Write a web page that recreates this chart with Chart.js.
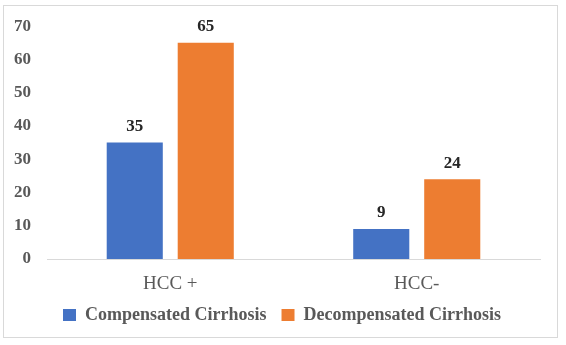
<!DOCTYPE html>
<html>
<head>
<meta charset="utf-8">
<script src="https://cdn.jsdelivr.net/npm/chart.js@4"></script>
<style>
  html, body { margin: 0; padding: 0; background: #fff; }
  #wrap { width: 566px; height: 345px; }
</style>
</head>
<body>
<div id="wrap"><canvas id="chart"></canvas></div>
<script>
const groups = ['HCC +', 'HCC-'];
const compensated = [35, 9];
const decompensated = [65, 24];
const yTicks = [0, 10, 20, 30, 40, 50, 60, 70];

Chart.defaults.font.family = "'Liberation Serif', 'Times New Roman', serif";
Chart.defaults.color = '#595959';

// thin gray frame round the whole chart
const frame = {
  id: 'frame',
  beforeDraw(chart) {
    const ctx = chart.ctx;
    ctx.save();
    ctx.fillStyle = '#fff';
    ctx.fillRect(0, 0, chart.width, chart.height);
    ctx.strokeStyle = '#d9d9d9';
    ctx.lineWidth = 1;
    ctx.strokeRect(3.5, 5.5, 554, 332);
    ctx.restore();
  }
};

// centre the legend under the frame rather than under the padded box
const legendShift = {
  id: 'legendShift',
  afterLayout(chart) {
    chart.legend.left += 12;
    chart.legend.right += 12;
  }
};

// value printed above each bar
const barValues = {
  id: 'barValues',
  afterDatasetsDraw(chart) {
    const ctx = chart.ctx;
    ctx.save();
    ctx.font = "bold 17px 'Liberation Serif', serif";
    ctx.fillStyle = '#262626';
    ctx.textAlign = 'center';
    ctx.textBaseline = 'middle';
    chart.data.datasets.forEach((ds, i) => {
      chart.getDatasetMeta(i).data.forEach((bar, j) => {
        ctx.fillText(String(ds.data[j]), bar.x, bar.y - 16);
      });
    });
    ctx.restore();
  }
};

new Chart(document.getElementById('chart'), {
  type: 'bar',
  data: {
    labels: groups,
    datasets: [
      {
        label: 'Compensated Cirrhosis',
        data: compensated,
        backgroundColor: '#4472c4'
      },
      {
        label: 'Decompensated Cirrhosis',
        data: decompensated,
        backgroundColor: '#ed7d31'
      }
    ]
  },
  options: {
    responsive: true,
    maintainAspectRatio: false,
    animation: false,
    categoryPercentage: 0.576,
    barPercentage: 0.79,
    layout: {
      padding: { top: 25, right: 26, left: 0, bottom: 11 }
    },
    scales: {
      x: {
        grid: { display: false, drawTicks: false },
        border: { display: true, color: '#d9d9d9', width: 1 },
        ticks: {
          padding: 14,
          font: { size: 19 }
        },
        afterFit(scale) { scale.height = 32; }
      },
      y: {
        min: 0,
        max: 70,
        grid: { display: false, drawTicks: false },
        border: { display: false },
        afterBuildTicks(scale) { scale.ticks = yTicks.map(v => ({ value: v })); },
        ticks: {
          padding: 16,
          font: { size: 17, weight: 'bold' }
        },
        afterFit(scale) { scale.width = 47; }
      }
    },
    plugins: {
      legend: {
        position: 'bottom',
        labels: {
          boxWidth: 13,
          boxHeight: 12,
          padding: 15,
          font: { size: 18, weight: 'bold' }
        }
      },
      tooltip: { enabled: false }
    }
  },
  plugins: [frame, legendShift, barValues]
});
</script>
</body>
</html>
